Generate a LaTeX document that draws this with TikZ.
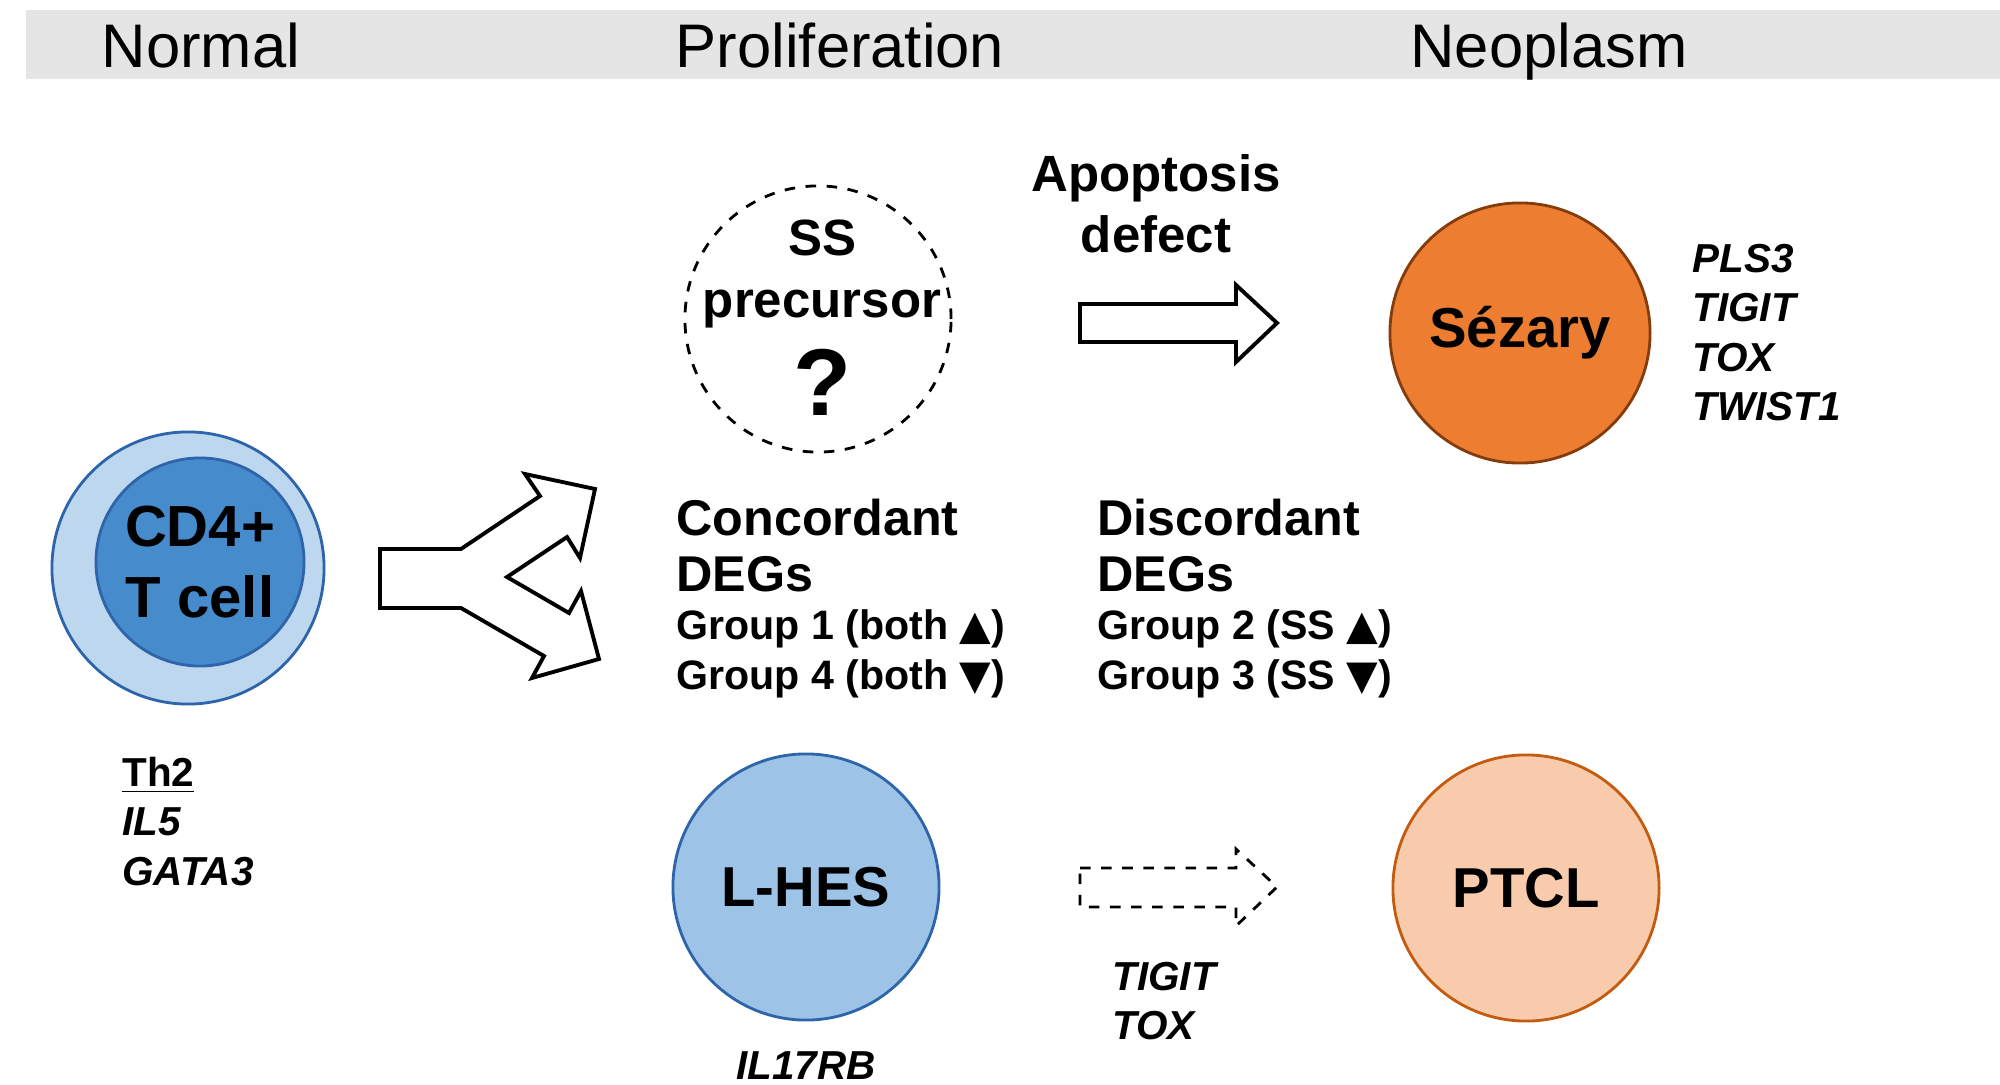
\documentclass[tikz,border=0pt]{standalone}
\usepackage{fontspec}
\setmainfont{Liberation Sans}
\newfontfamily\symf{DejaVu Sans}
\begin{document}
\begin{tikzpicture}[x=0.01cm,y=-0.01cm,
  hdr/.style={font=\fontsize{17.5}{20}\selectfont,anchor=base},
  big/.style={font=\bfseries\fontsize{16}{19}\selectfont,align=center},
  lbl/.style={font=\bfseries\fontsize{14.3}{16}\selectfont,anchor=west},
  grp/.style={font=\bfseries\fontsize{11.7}{14}\selectfont,anchor=west},
  gene/.style={font=\bfseries\itshape\fontsize{11.5}{14}\selectfont,align=left,anchor=north west},
  hollow/.style={draw=black,line width=1.1pt,fill=white,line join=miter}]
\useasboundingbox (0,0) rectangle (2000,1085);
\fill[gray!20] (26,10) rectangle (2000,79);
\node[hdr] (hn) at (201,68) {Normal};
\node[hdr] (hp) at (840,68) {Proliferation};
\node[hdr] (hneo) at (1549,68) {Neoplasm};
% CD4
\node[circle,draw={rgb,255:red,46;green,100;blue,170},fill={rgb,255:red,189;green,215;blue,238},minimum size=2.72cm,inner sep=0,line width=0.8pt] (cdo) at (188,568) {};
\node[circle,draw={rgb,255:red,46;green,100;blue,170},fill={rgb,255:red,70;green,140;blue,205},minimum size=2.08cm,inner sep=0,line width=0.8pt,big,font=\bfseries\fontsize{16.5}{20}\selectfont] (cd) at (200,562) {CD4+\\T cell};
\node[gene,anchor=north west] (th) at (110,745) {\underline{\upshape Th2}\\IL5\\GATA3};
% fork arrow
\draw[hollow] (380,549)--(461,549)--(540,496)--(525,474)--(595,489)--(580,558)--(567,537)--(507,577)--(569,613)--(581,591)--(599,659)--(532,678)--(544,656)--(461,608)--(380,608)--cycle;
% SS precursor
\node[circle,draw,dashed,minimum size=2.66cm,inner sep=0,line width=0.8pt] (ss) at (818,319) {};
\node[big,font=\bfseries\fontsize{14.5}{17.5}\selectfont] (sst) at (822,274) {SS\\precursor};
\node[font=\bfseries\fontsize{27}{30}\selectfont] (q) at (822,382) {?};
\node[big,font=\bfseries\fontsize{14.5}{17.5}\selectfont] (apo) at (1156,204) {Apoptosis\\defect};
\draw[hollow] (1080,304)--(1236,304)--(1236,285)--(1277,323)--(1236,362)--(1236,342)--(1080,342)--cycle;
\node[circle,draw={rgb,255:red,132;green,60;blue,12},fill={rgb,255:red,237;green,125;blue,49},minimum size=2.6cm,inner sep=0,line width=0.8pt,big] (sez) at (1520,333) {Sézary};
\node[gene] (sg) at (1680,232) {PLS3\\TIGIT\\TOX\\TWIST1};
% DEGs
\node[lbl] (con) at (664,518) {Concordant};
\node[lbl] (cdeg) at (664,574) {DEGs};
\node[grp] (g1) at (664,629) {Group 1 (both {\symf▲})};
\node[grp] (g4) at (664,679) {Group 4 (both {\symf▼})};
\node[lbl] (dis) at (1085,518) {Discordant};
\node[lbl] (ddeg) at (1085,574) {DEGs};
\node[grp] (g2) at (1085,629) {Group 2 (SS {\symf▲})};
\node[grp] (g3) at (1085,679) {Group 3 (SS {\symf▼})};
% L-HES
\node[circle,draw={rgb,255:red,46;green,100;blue,170},fill={rgb,255:red,157;green,195;blue,230},minimum size=2.66cm,inner sep=0,line width=0.8pt,big] (lh) at (806,887) {L-HES};
\node[gene,anchor=center] (il) at (806,1066) {IL17RB};
\draw[hollow,dashed,line width=0.8pt] (1080,868)--(1236,868)--(1236,849)--(1277,887)--(1236,926)--(1236,907)--(1080,907)--cycle;
\node[gene] (tg) at (1100,950) {TIGIT\\TOX};
\node[circle,draw={rgb,255:red,197;green,90;blue,17},fill={rgb,255:red,248;green,203;blue,173},minimum size=2.66cm,inner sep=0,line width=0.8pt,big] (pt) at (1526,888) {PTCL};
\end{tikzpicture}
\end{document}
